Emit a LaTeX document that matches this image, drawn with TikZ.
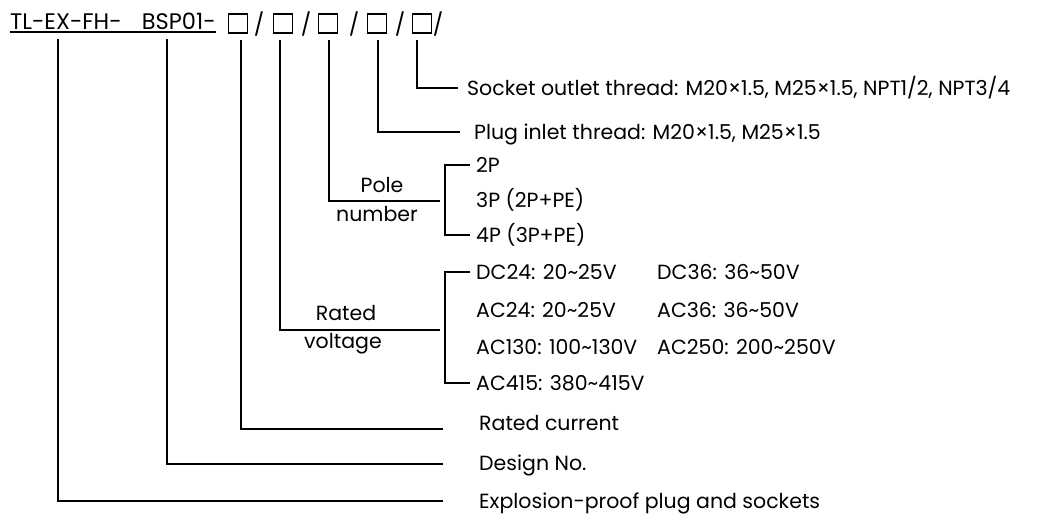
\documentclass[tikz,border=0pt]{standalone}
\usepackage{fontspec}
\setmainfont{Poppins}
\usetikzlibrary{positioning}

\begin{document}
\begin{tikzpicture}[
	x=1pt, y=-1pt,
	font=\fontsize{20.5}{24}\selectfont,
	lnk/.style={
		line width=1.4pt
	},
	sq/.style={
		draw, line width=1.3pt,
		minimum size=19pt,
		inner sep=0pt
	},
	sl/.style={
		inner sep=0pt,
		font=\fontsize{22}{26}\selectfont
	},
	lbl/.style={
		anchor=west, inner sep=0pt,
		text height=14pt, text depth=0pt
	},
	twoln/.style={
		inner sep=0pt,
		text height=14pt, text depth=0pt
	}
	]
	
	\useasboundingbox (0,0) rectangle (1040,515);
	
	% code line
	\node [anchor=base west, inner sep=0pt, font=\fontsize{22.5}{26}\selectfont] (Code) at (10,29.5) {TL-EX-FH-\hspace{0.9em}BSP01-};
	\draw [line width=1.3pt] ([yshift=-2.5pt]Code.base west) -- ([yshift=-2.5pt]Code.base east);
	
	\node [sq] (Cur) at (238,23.5) {};
	\node [sq] (Pole) at (283,23.5) {};
	\node [sq] (Volt) at (328,23.5) {};
	\node [sq] (Plug) at (377,23.5) {};
	\node [sq] (Sock) at (422,23.5) {};
	\node [sl] at (259,24) {/};
	\node [sl] at (306,24) {/};
	\node [sl] at (354,24) {/};
	\node [sl] at (400,24) {/};
	\node [sl] at (438,24) {/};
	
	\coordinate (Type) at (58,39);
	\coordinate (Design) at (167,39);
	
	% descriptions
	\node [lbl] (SockTxt) at (467,88) {Socket outlet thread: M20×1.5, M25×1.5, NPT1/2, NPT3/4};
	\node [lbl] (PlugTxt) at (474,132) {Plug inlet thread: M20×1.5, M25×1.5};
	
	\node [lbl] (P2) at (476,165) {2P};
	\node [lbl] (P3) at (476,200) {3P (2P+PE)};
	\node [lbl] (P4) at (476,235) {4P (3P+PE)};
	
	\node [lbl] (DC24) at (476,272) {DC24: 20\textasciitilde25V};
	\node [lbl] (AC24) at (476,310) {AC24: 20\textasciitilde25V};
	\node [lbl] (AC130) at (476,347) {AC130: 100\textasciitilde130V};
	\node [lbl] (AC415) at (476,383) {AC415: 380\textasciitilde415V};
	\node [lbl] (DC36) at (657,272) {DC36: 36\textasciitilde50V};
	\node [lbl] (AC36) at (657,310) {AC36: 36\textasciitilde50V};
	\node [lbl] (AC250) at (657,347) {AC250: 200\textasciitilde250V};
	
	\node [lbl] (CurTxt) at (479,423) {Rated current};
	\node [lbl] (DesignTxt) at (479,463) {Design No.};
	\node [lbl] (TypeTxt) at (479,501) {Explosion-proof plug and sockets};
	
	\node [twoln] (PoleA) at (382,185) {Pole};
	\node [twoln] (PoleB) at (377,214.5) {number};
	\node [twoln] (VoltA) at (346,313.5) {Rated};
	\node [twoln] (VoltB) at (343,341) {voltage};
	
	\coordinate (PoleEnd) at (440,201);
	\coordinate (VoltEnd) at (440,330);
	
	% leaders
	\draw [lnk] ([xshift=-5pt,yshift=-6pt]Sock.south) |- ([xshift=-9pt]SockTxt.west);
	\draw [lnk] ([xshift=1pt,yshift=-6pt]Plug.south) |- ([xshift=-14pt]PlugTxt.west);
	\draw [lnk] ([xshift=1pt,yshift=-6pt]Volt.south) |- (PoleEnd);
	\draw [lnk] ([xshift=-3pt,yshift=-6pt]Pole.south) |- (VoltEnd);
	\draw [lnk] ([xshift=3pt,yshift=-6pt]Cur.south) |- ([xshift=-36pt,yshift=-6pt]CurTxt.west);
	\draw [lnk] (Design) |- ([xshift=-36pt,yshift=-1pt]DesignTxt.west);
	\draw [lnk] (Type) |- ([xshift=-36pt]TypeTxt.west);
	
	% brackets
	\draw [lnk] ([xshift=-6pt]P2.west) -| ([xshift=-31pt]P4.west) -- ([xshift=-6pt]P4.west);
	\draw [lnk] ([xshift=-6pt]DC24.west) -| ([xshift=-31pt]AC415.west) -- ([xshift=-6pt]AC415.west);
	
\end{tikzpicture}
\end{document}
